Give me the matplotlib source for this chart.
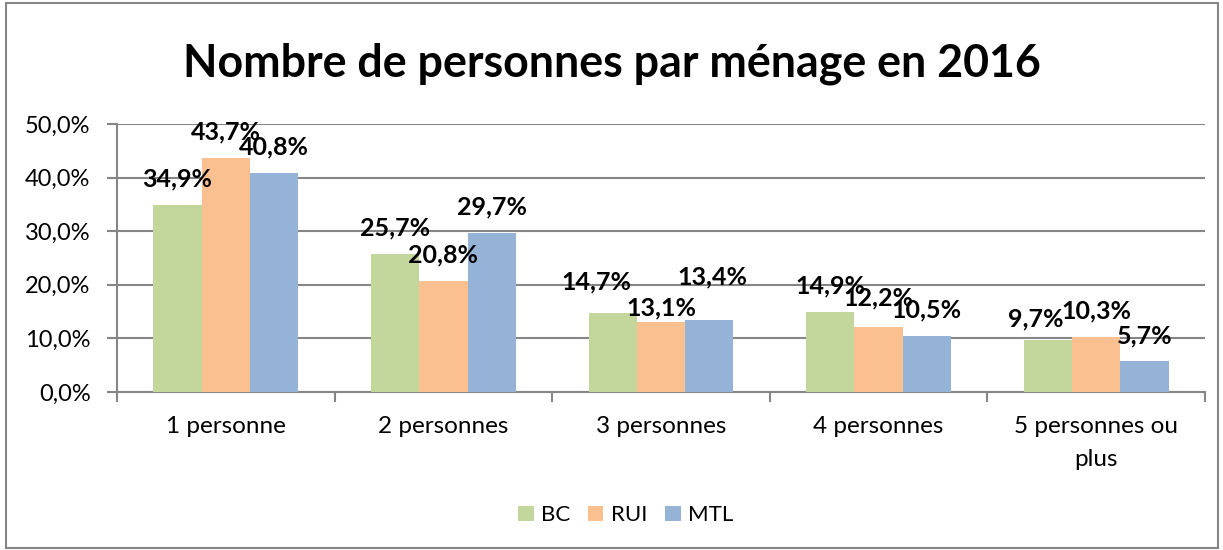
import matplotlib
matplotlib.use("Agg")
import matplotlib.pyplot as plt
from matplotlib.patches import Rectangle
import numpy as np

categories = ["1 personne", "2 personnes", "3 personnes", "4 personnes", "5 personnes ou\nplus"]
series_names = ["BC", "RUI", "MTL"]
bc = [34.9, 25.7, 14.7, 14.9, 9.7]
rui = [43.7, 20.8, 13.1, 12.2, 10.3]
mtl = [40.8, 29.7, 13.4, 10.5, 5.7]
colors = ["#C3D69B", "#FAC090", "#95B3D7"]
y_ticks = [0, 10, 20, 30, 40, 50]

# labels that were dragged by hand in the original: (group, series) -> (dx, dy) pixels
label_nudge = {(2, 0): (-16, 5), (2, 1): (0, -12), (2, 2): (3, 17),
               (3, 1): (0, 3), (4, 0): (-12, -5)}

plt.rcParams['font.family'] = ['Lato', 'DejaVu Sans']

fig = plt.figure(figsize=(12.23, 5.5), dpi=100)
ax = fig.add_axes([117 / 1223, 1 - 392 / 550, (1205 - 117) / 1223, (392 - 124) / 550])

x = np.arange(len(categories))
width = 0.222
grid_color = "#868686"

for i, (vals, name, c) in enumerate(zip([bc, rui, mtl], series_names, colors)):
    bars = ax.bar(x + (i - 1) * width, vals, width, color=c, label=name, zorder=3)
    for j, (b, v) in enumerate(zip(bars, vals)):
        dx, dy = label_nudge.get((j, i), (0, 0))
        ax.annotate(f"{v:.1f}%".replace(".", ","),
                    (b.get_x() + b.get_width() / 2, b.get_height()),
                    xytext=(dx, 26 + dy), textcoords="offset pixels",
                    ha="center", va="center", fontsize=18, fontweight="bold",
                    zorder=4)

ax.set_xlim(-0.5, len(categories) - 0.5)
ax.set_ylim(0, 50)
ax.set_yticks(y_ticks)
ax.set_yticklabels([f"{t:.1f}%".replace(".", ",") for t in y_ticks], fontsize=17)
ax.yaxis.grid(True, color=grid_color, linewidth=1.5, zorder=0)
ax.tick_params(axis="y", length=7, width=1.5, color=grid_color, pad=12)

ax.set_xticks(x)
ax.set_xticklabels(categories, fontsize=17.5, linespacing=1.7, va="top")
ax.tick_params(axis="x", length=0, pad=17)
ax.set_xticks(np.arange(-0.5, len(categories)), minor=True)
ax.tick_params(axis="x", which="minor", length=7, width=1.5, color=grid_color)

for s in ["top", "right"]:
    ax.spines[s].set_visible(False)
for s in ["left", "bottom"]:
    ax.spines[s].set_color(grid_color)
    ax.spines[s].set_linewidth(1.5)

fig.text(0.5, 1 - 64 / 550, "Nombre de personnes par ménage en 2016",
         ha="center", va="center", fontsize=32.2, fontweight="bold")

fig.legend(loc="center", bbox_to_anchor=(626 / 1223, 1 - 515 / 550), ncol=3,
           frameon=False, fontsize=16, handlelength=0.68, handleheight=0.68,
           handletextpad=0.35, columnspacing=0.8)

fig.patches.append(Rectangle((6 / 1223, 2 / 550), 1212 / 1223, 545 / 550,
                             transform=fig.transFigure, fill=False,
                             edgecolor="#868686", linewidth=1.5))

fig.savefig("out.png", dpi=100)
